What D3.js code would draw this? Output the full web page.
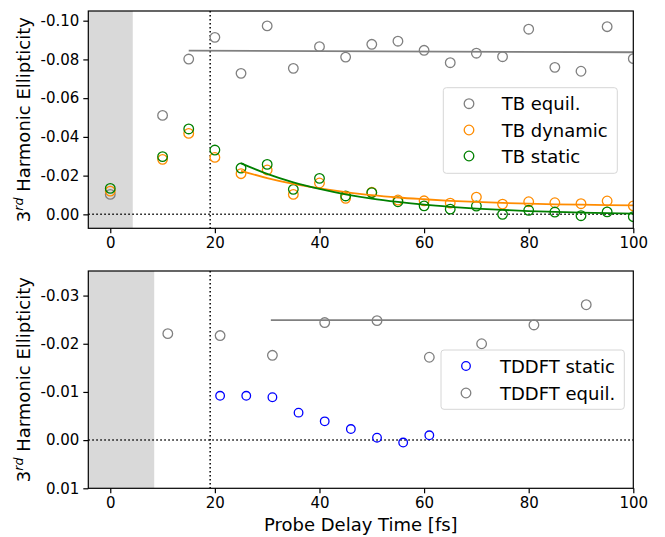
<!DOCTYPE html>
<html><head><meta charset="utf-8">
<script src="https://cdn.jsdelivr.net/npm/d3@7"></script>
<style>body{margin:0;background:#fff} text{font-family:"DejaVu Sans",sans-serif;fill:#000}</style>
</head><body><svg id="c" width="665" height="537"></svg>
<script>
// ---------- data ----------
const tbTimes   = [0,10,15,20,25,30,35,40,45,50,55,60,65,70,75,80,85,90,95,100];
const tbEquil   = [-0.0103,-0.0511,-0.0802,-0.0914,-0.0728,-0.0973,-0.0754,-0.0866,-0.0812,-0.0878,-0.0894,-0.0847,-0.0783,-0.0832,-0.0814,-0.0956,-0.0759,-0.0739,-0.0969,-0.0804];
const tbDynamic = [-0.0120,-0.0284,-0.0418,-0.0294,-0.0210,-0.0229,-0.0103,-0.0162,-0.0083,-0.0114,-0.0074,-0.0070,-0.0058,-0.0089,-0.0053,-0.0065,-0.0060,-0.0055,-0.0069,-0.0044];
const tbStatic  = [-0.0134,-0.0298,-0.0441,-0.0332,-0.0239,-0.0258,-0.0129,-0.0186,-0.0095,-0.0112,-0.0065,-0.0044,-0.0027,-0.0043,0.0000,-0.0021,-0.0012,0.0007,-0.0013,0.0012];

const tbEquilFitX = [15,100];
const tbEquilFitY = [-0.0845,-0.0837];
const tbFitX      = [25,30,35,40,45,50,55,60,65,70,75,80,85,90,95,100];
const tbDynFitY   = [-0.0225,-0.0187,-0.0157,-0.0134,-0.0115,-0.0099,-0.0087,-0.0078,-0.0070,-0.0064,-0.0059,-0.0055,-0.0052,-0.0050,-0.0048,-0.0046];
const tbStatFitY  = [-0.0263,-0.0209,-0.0165,-0.0131,-0.0103,-0.0081,-0.0064,-0.0050,-0.0039,-0.0030,-0.0023,-0.0017,-0.0013,-0.0009,-0.0006,-0.0004];

const tdEquilTimes  = [11,21,31,41,51,61,71,81,91];
const tdEquil       = [-0.0221,-0.0217,-0.0176,-0.0244,-0.0248,-0.0172,-0.0200,-0.0239,-0.0281];
const tdStaticTimes = [21,26,31,36,41,46,51,56,61];
const tdStatic      = [-0.0092,-0.0092,-0.0089,-0.0057,-0.0039,-0.0023,-0.0005,0.0005,-0.0010];
const tdEquilFitX = [30.7,100];
const tdEquilFitY = [-0.0249,-0.0249];

const xTicks      = [0,20,40,60,80,100];
const yTicksTop   = [-0.10,-0.08,-0.06,-0.04,-0.02,0.00];
const yTicksBot   = [-0.03,-0.02,-0.01,0.00,0.01];
const xDomain     = [-4.2,100];
const yDomainTop  = [-0.105,0.0072];
const yDomainBot  = [-0.0351,0.01];
const shadeTop    = [-4.2,4.3];
const shadeBot    = [-4.2,8.4];
const pumpLine    = 19.1;

// ---------- layout ----------
const svg = d3.select("#c");
const L = 88.3, R = 633.3;
const panels = [
  {top:11, bottom:228.3, yDomain:yDomainTop, yTicks:yTicksTop, shade:shadeTop, id:"t"},
  {top:271, bottom:488.3, yDomain:yDomainBot, yTicks:yTicksBot, shade:shadeBot, id:"b"}
];
const x = d3.scaleLinear().domain(xDomain).range([L,R]);

function fmt(v){ return Math.abs(v) < 1e-9 ? "0.00" : v.toFixed(2); }

function drawPanel(p){
  const y = d3.scaleLinear().domain(p.yDomain).range([p.top,p.bottom]);
  svg.append("clipPath").attr("id","clip"+p.id).append("rect")
    .attr("x",L).attr("y",p.top).attr("width",R-L).attr("height",p.bottom-p.top);
  const g = svg.append("g");
  const c = g.append("g").attr("clip-path","url(#clip"+p.id+")");
  c.append("rect").attr("x",x(p.shade[0])).attr("width",x(p.shade[1])-x(p.shade[0]))
    .attr("y",p.top).attr("height",p.bottom-p.top).attr("fill","#d9d9d9");
  c.append("line").attr("x1",L).attr("x2",R).attr("y1",y(0)).attr("y2",y(0))
    .attr("stroke","#000").attr("stroke-width",1.5).attr("stroke-dasharray","1.5,2.5");
  c.append("line").attr("x1",x(pumpLine)).attr("x2",x(pumpLine)).attr("y1",p.top).attr("y2",p.bottom)
    .attr("stroke","#000").attr("stroke-width",1.5).attr("stroke-dasharray","1.5,2.5");
  const xa = g.append("g").attr("transform",`translate(0,${p.bottom})`)
    .call(d3.axisBottom(x).tickValues(xTicks).tickSize(5).tickSizeOuter(0).tickPadding(4).tickFormat(d3.format("d")));
  const ya = g.append("g").attr("transform",`translate(${L},0)`)
    .call(d3.axisLeft(y).tickValues(p.yTicks).tickSize(5).tickSizeOuter(0).tickPadding(4).tickFormat(fmt));
  [xa,ya].forEach(a=>{
    a.selectAll("text").attr("font-size",15).attr("font-family","DejaVu Sans");
    a.selectAll("line").attr("stroke","#000").attr("stroke-width",1.2);
    a.select(".domain").remove();
  });
  g.append("rect").attr("x",L).attr("y",p.top).attr("width",R-L).attr("height",p.bottom-p.top)
    .attr("fill","none").attr("stroke","#000").attr("stroke-width",1.2);
  const cy = (p.top+p.bottom)/2;
  const t = g.append("text").attr("transform",`translate(30,${cy}) rotate(-90)`)
    .attr("text-anchor","middle").attr("font-size",18);
  t.append("tspan").text("3");
  t.append("tspan").attr("font-size",12.6).attr("font-style","italic").attr("dy",-7).text("rd");
  t.append("tspan").attr("dy",7).text(" Harmonic Ellipticity");
  return {y, c, g};
}

function scatter(c, y, xs, ys, color, r){
  c.append("g").selectAll("circle").data(xs.map((d,i)=>[d,ys[i]])).join("circle")
    .attr("cx",d=>x(d[0])).attr("cy",d=>y(d[1])).attr("r",r)
    .attr("fill","none").attr("stroke",color).attr("stroke-width",1.3);
}
function line(c, y, xs, ys, color, w){
  c.append("path").datum(xs.map((d,i)=>[d,ys[i]]))
    .attr("d",d3.line().x(d=>x(d[0])).y(d=>y(d[1])).curve(d3.curveMonotoneX))
    .attr("fill","none").attr("stroke",color).attr("stroke-width",w);
}
function legend(g, bx, by, bw, bh, mx, tx, rows){
  g.append("rect").attr("x",bx).attr("y",by).attr("width",bw).attr("height",bh).attr("rx",3)
    .attr("fill","#fff").attr("fill-opacity",0.8).attr("stroke","#d6d6d6").attr("stroke-width",1);
  rows.forEach(r=>{
    g.append("circle").attr("cx",mx).attr("cy",r.y).attr("r",r.r).attr("fill","none")
      .attr("stroke",r.color).attr("stroke-width",1.3);
    g.append("text").attr("x",tx).attr("y",r.y+6.5).attr("font-size",18).text(r.label);
  });
}

const topP = drawPanel(panels[0]);
scatter(topP.c, topP.y, tbTimes, tbEquil, "#808080", 4.8);
scatter(topP.c, topP.y, tbTimes, tbDynamic, "#ff8c00", 4.8);
scatter(topP.c, topP.y, tbTimes, tbStatic, "#008000", 4.8);
line(topP.c, topP.y, tbEquilFitX, tbEquilFitY, "#808080", 1.8);
line(topP.c, topP.y, tbFitX, tbDynFitY, "#ff8c00", 1.8);
line(topP.c, topP.y, tbFitX, tbStatFitY, "#008000", 1.8);
legend(topP.g, 443.3, 87.7, 174, 85.6, 469, 501.7, [
  {y:103.7, label:"TB equil.", color:"#808080", r:4.8},
  {y:130, label:"TB dynamic", color:"#ff8c00", r:4.8},
  {y:156, label:"TB static", color:"#008000", r:4.8}
]);

const botP = drawPanel(panels[1]);
line(botP.c, botP.y, tdEquilFitX, tdEquilFitY, "#808080", 1.8);
scatter(botP.c, botP.y, tdEquilTimes, tdEquil, "#808080", 4.8);
scatter(botP.c, botP.y, tdStaticTimes, tdStatic, "#0000ff", 4.3);
legend(botP.g, 441, 350, 183.3, 59.3, 466, 500, [
  {y:366, label:"TDDFT static", color:"#0000ff", r:4.3},
  {y:393, label:"TDDFT equil.", color:"#808080", r:4.8}
]);

svg.append("text").attr("x",(L+R)/2).attr("y",531).attr("text-anchor","middle")
  .attr("font-size",18).text("Probe Delay Time [fs]");
</script></body></html>
